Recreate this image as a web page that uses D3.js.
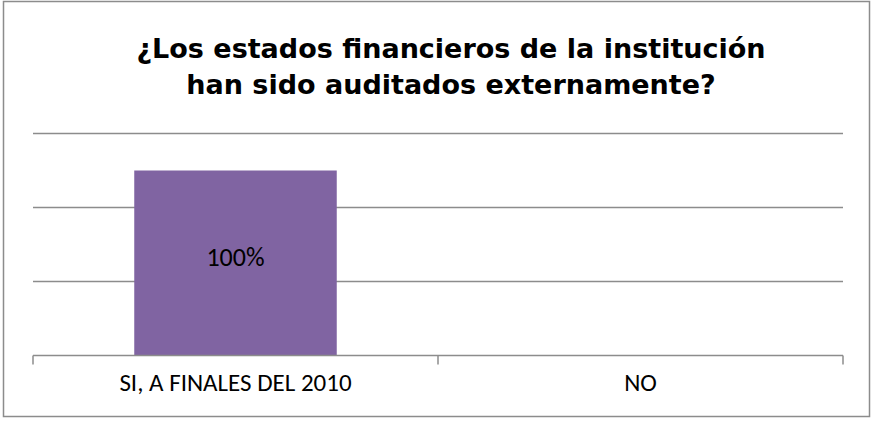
<!DOCTYPE html>
<html><head><meta charset="utf-8">
<script src="https://cdn.jsdelivr.net/npm/d3@7"></script>
<style>body{margin:0;background:#fff}svg{display:block}</style>
</head><body>
<svg id="c" width="871" height="422"></svg>
<script>
const categories = ["SI, A FINALES DEL 2010", "NO"];
const values = [1, null];
const valueLabels = ["100%", ""];
const yTicks = [0, 0.4, 0.8, 1.2];
const titleLines = ["¿Los estados financieros de la institución", "han sido auditados externamente?"];

const svg = d3.select("#c");
svg.append("rect").attr("x",3.5).attr("y",1.5).attr("width",866).attr("height",415)
  .attr("fill","#fff").attr("stroke","#8c8c8c").attr("stroke-width",1.5);

const x = d3.scaleBand().domain(categories).range([33, 843]).paddingInner(0).paddingOuter(0);
const y = d3.scaleLinear().domain([0, 1.2]).range([355.5, 133.5]);

// gridlines
svg.append("g").selectAll("line").data(yTicks.filter(t=>t>0)).join("line")
  .attr("x1",33).attr("x2",843).attr("y1",d=>y(d)).attr("y2",d=>y(d))
  .attr("stroke","#8c8c8c").attr("stroke-width",1.5);

const rows = categories.map((c,i)=>({c,v:values[i],l:valueLabels[i]})).filter(d=>d.v!=null);

// bars
const barW = x.bandwidth()*0.5;
svg.append("g").selectAll("rect").data(rows)
  .join("rect")
  .attr("x",d=>x(d.c)+(x.bandwidth()-barW)/2).attr("width",barW)
  .attr("y",d=>y(d.v)).attr("height",d=>y(0)-y(d.v)).attr("fill","#8064A2");

const bodyFont = "Carlito, Calibri, 'Liberation Sans Narrow', 'Open Sans', sans-serif";

// axis
const ax = svg.append("g").attr("transform",`translate(0,${y(0)})`)
  .call(d3.axisBottom(x).tickSize(0).tickFormat(""));
ax.select(".domain").attr("stroke","#8c8c8c").attr("stroke-width",1.5).attr("d","M33,0H843");
const tickPos = [33, ...categories.map(c=>x(c)+x.bandwidth())];
ax.selectAll(".sep").data(tickPos).join("line").attr("class","sep")
  .attr("x1",d=>d).attr("x2",d=>d).attr("y1",0).attr("y2",9)
  .attr("stroke","#8c8c8c").attr("stroke-width",1.5);
ax.selectAll(".lbl").data(categories).join("text").attr("class","lbl")
  .attr("x",d=>x(d)+x.bandwidth()/2).attr("y",35)
  .attr("text-anchor","middle").attr("font-family",bodyFont)
  .attr("font-size",25).attr("fill","#000").text(d=>d);

// value labels
svg.append("g").selectAll("text").data(rows)
  .join("text")
  .attr("x",d=>x(d.c)+x.bandwidth()/2).attr("y",d=>(y(d.v)+y(0))/2+3)
  .attr("text-anchor","middle").attr("font-family",bodyFont)
  .attr("font-size",26).attr("fill","#000").text(d=>d.l);

// title
svg.append("g").selectAll("text").data(titleLines).join("text")
  .attr("x",451).attr("y",(d,i)=>58+i*36)
  .attr("text-anchor","middle").attr("font-family","'DejaVu Sans', sans-serif")
  .attr("font-weight","bold").attr("font-size",27).attr("fill","#000").text(d=>d);
</script>
</body></html>
